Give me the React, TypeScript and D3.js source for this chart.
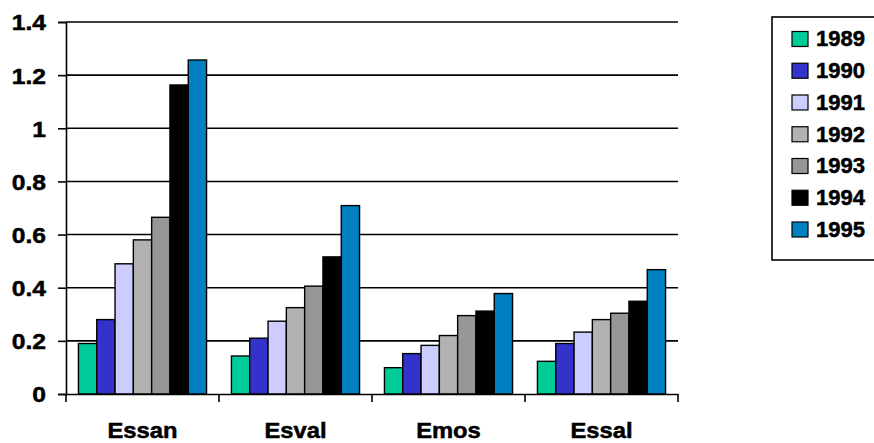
import { useEffect, useRef } from "react";
import * as d3 from "d3";

const categories = ["Essan", "Esval", "Emos", "Essal"];
const years = ["1989", "1990", "1991", "1992", "1993", "1994", "1995"];
const colors = ["#00CC99", "#3333CC", "#CCCCFF", "#B2B2B2", "#969696", "#000000", "#0080C0"];

// values per year, in category order
const v1989 = [0.19, 0.143, 0.099, 0.123];
const v1990 = [0.28, 0.21, 0.152, 0.19];
const v1991 = [0.49, 0.274, 0.183, 0.233];
const v1992 = [0.58, 0.325, 0.22, 0.28];
const v1993 = [0.665, 0.406, 0.295, 0.304];
const v1994 = [1.163, 0.516, 0.312, 0.349];
const v1995 = [1.257, 0.709, 0.378, 0.468];
const series = [v1989, v1990, v1991, v1992, v1993, v1994, v1995];

const yTicks = [0, 0.2, 0.4, 0.6, 0.8, 1, 1.2, 1.4];

const W = 874;
const H = 443;
const M = { top: 22, right: 196, bottom: 49, left: 66 };
const FONT = "'Liberation Sans', Arial, sans-serif";

export default function App() {
  const svgRef = useRef<SVGSVGElement>(null);

  useEffect(() => {
    if (!svgRef.current) return;
    const root = d3.select(svgRef.current);
    root.selectAll("*").remove();

    const x0 = d3
      .scaleBand()
      .domain(categories)
      .range([M.left, W - M.right])
      .paddingInner(0)
      .paddingOuter(0);

    const x1 = d3
      .scaleBand()
      .domain(years)
      .range([0, x0.bandwidth()])
      .paddingInner(0)
      .paddingOuter(0.68);

    const y = d3
      .scaleLinear()
      .domain([0, 1.4])
      .range([H - M.bottom, M.top]);

    // gridlines
    root
      .append("g")
      .selectAll("line")
      .data(yTicks.filter((t) => t > 0))
      .join("line")
      .attr("x1", M.left)
      .attr("x2", W - M.right)
      .attr("y1", (d) => y(d))
      .attr("y2", (d) => y(d))
      .attr("stroke", "#000")
      .attr("stroke-width", 1.6);

    // bars
    const groups = root
      .append("g")
      .selectAll("g")
      .data(series)
      .join("g")
      .attr("fill", (_, i) => colors[i]);

    groups
      .selectAll("rect")
      .data((vals, si) => vals.map((v, ci) => ({ v, ci, si })))
      .join("rect")
      .attr("x", (d) => (x0(categories[d.ci]) ?? 0) + (x1(years[d.si]) ?? 0))
      .attr("y", (d) => y(d.v))
      .attr("width", x1.bandwidth())
      .attr("height", (d) => y(0) - y(d.v))
      .attr("stroke", "#000")
      .attr("stroke-width", 1.4);

    // y axis
    const yAxis = root
      .append("g")
      .attr("transform", `translate(${M.left},0)`)
      .call(
        d3
          .axisLeft(y)
          .tickValues(yTicks)
          .tickSize(8)
          .tickPadding(12)
          .tickFormat((d) => String(+d))
      );
    yAxis.select(".domain").attr("stroke", "#000").attr("stroke-width", 1.6);
    yAxis.selectAll("line").attr("stroke", "#000").attr("stroke-width", 1.6);
    yAxis
      .selectAll("text")
      .attr("fill", "#000")
      .attr("stroke", "#000")
      .attr("stroke-width", 0.5)
      .attr("font-family", FONT)
      .attr("font-weight", "bold")
      .attr("font-size", 22)
      .attr("dy", "0.36em")
      .attr("transform", "translate(-20,0) scale(1.12,1) translate(20,0)");

    // x axis
    const xAxis = root
      .append("g")
      .attr("transform", `translate(0,${y(0)})`)
      .call(d3.axisBottom(x0).tickSize(0).tickPadding(28));
    xAxis.select(".domain").attr("stroke", "#000").attr("stroke-width", 1.6);
    xAxis
      .selectAll("text")
      .attr("fill", "#000")
      .attr("stroke", "#000")
      .attr("stroke-width", 0.5)
      .attr("font-family", FONT)
      .attr("font-weight", "bold")
      .attr("font-size", 22)
      .attr("transform", "scale(1.08,1)");

    // category separators
    const seps = [...categories.map((c) => x0(c) ?? 0), W - M.right];
    root
      .append("g")
      .selectAll("line")
      .data(seps)
      .join("line")
      .attr("x1", (d) => d)
      .attr("x2", (d) => d)
      .attr("y1", y(0))
      .attr("y2", y(0) + 8)
      .attr("stroke", "#000")
      .attr("stroke-width", 1.6);

    // legend
    const lg = root.append("g").attr("transform", "translate(772,17)");
    lg.append("rect")
      .attr("x", 0)
      .attr("y", 0)
      .attr("width", 120)
      .attr("height", 243)
      .attr("fill", "#fff")
      .attr("stroke", "#000")
      .attr("stroke-width", 1.6);

    const rowY = d3.scalePoint().domain(years).range([21.5, 212]);
    const rows = lg
      .selectAll("g.row")
      .data(years)
      .join("g")
      .attr("class", "row")
      .attr("transform", (d) => `translate(0,${rowY(d)})`);
    rows
      .append("rect")
      .attr("x", 20)
      .attr("y", -7)
      .attr("width", 16)
      .attr("height", 15)
      .attr("fill", (_, i) => colors[i])
      .attr("stroke", "#000")
      .attr("stroke-width", 1.2);
    rows
      .append("text")
      .attr("x", 44)
      .attr("y", 0)
      .attr("dy", "0.36em")
      .attr("font-family", FONT)
      .attr("font-weight", "bold")
      .attr("font-size", 22)
      .attr("fill", "#000")
      .attr("stroke", "#000")
      .attr("stroke-width", 0.5)
      .text((d) => d);
  }, []);

  return (
    <div style={{ position: "fixed", left: 0, top: 0, width: W, height: H, background: "#fff" }}>
      <svg ref={svgRef} width={W} height={H} viewBox={`0 0 ${W} ${H}`} style={{ display: "block" }} />
    </div>
  );
}
